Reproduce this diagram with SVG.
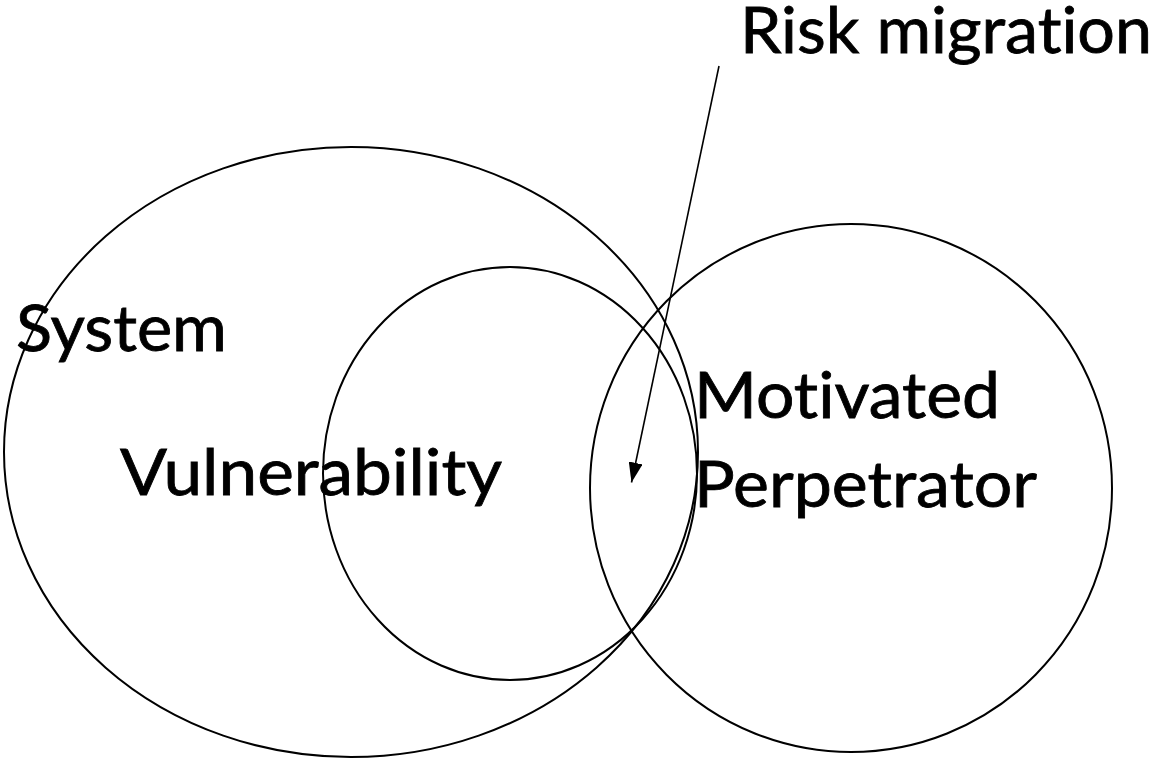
<svg xmlns="http://www.w3.org/2000/svg" width="1162" height="762" viewBox="0 0 1162 762">
  <style>
    .ring { fill: none; stroke: #000; stroke-width: 2; }
    .label { font-family: Lato, "Liberation Sans", Arial, sans-serif; font-size: 64px; fill: #000; stroke: #000; stroke-width: 0.8; font-variant-ligatures: none; font-feature-settings: "liga" 0, "clig" 0; }
    .link { stroke: #000; stroke-width: 1.6; fill: none; }
  </style>
  <defs>
    <marker id="arrowhead" viewBox="0 0 20 14" refX="20" refY="7" markerWidth="20" markerHeight="14" markerUnits="userSpaceOnUse" orient="auto">
      <path d="M0,0 L20,7 L0,14 z" fill="#000"/>
    </marker>
  </defs>
  <rect width="1162" height="762" fill="#fff"/>

  <g id="system">
    <ellipse class="ring" cx="351" cy="452" rx="347" ry="305"/>
    <text class="label" x="16" y="351" textLength="211" lengthAdjust="spacingAndGlyphs">System</text>
  </g>

  <g id="vulnerability">
    <ellipse class="ring" cx="510" cy="473.5" rx="187" ry="206.5"/>
    <text class="label" x="120" y="495" textLength="382" lengthAdjust="spacingAndGlyphs">Vulnerability</text>
  </g>

  <g id="perpetrator">
    <ellipse class="ring" cx="851" cy="488" rx="261" ry="264"/>
    <text class="label" x="694" y="418" textLength="306" lengthAdjust="spacingAndGlyphs">Motivated</text>
    <text class="label" x="694" y="507" textLength="343" lengthAdjust="spacingAndGlyphs">Perpetrator</text>
  </g>

  <g id="risk-migration">
    <text class="label" x="740" y="53" textLength="412" lengthAdjust="spacingAndGlyphs">Risk migration</text>
  </g>

  <g id="connectors">
    <line class="link" x1="719" y1="66" x2="631.5" y2="482.5" marker-end="url(#arrowhead)"/>
  </g>
</svg>
